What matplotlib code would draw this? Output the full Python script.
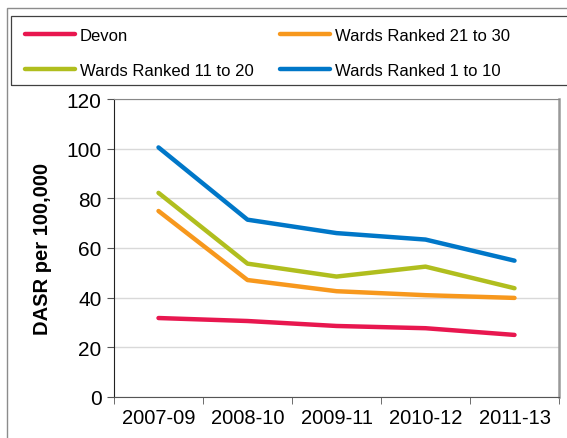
import matplotlib
matplotlib.use("Agg")
import matplotlib.pyplot as plt
from matplotlib.patches import Rectangle

plt.rcParams["font.family"] = ["Liberation Sans", "DejaVu Sans"]

# Data
periods = ["2007-09", "2008-10", "2009-11", "2010-12", "2011-13"]
devon = [31.8, 30.6, 28.6, 27.7, 25.0]
wards_21_30 = [74.9, 47.1, 42.6, 41.0, 39.9]
wards_11_20 = [82.2, 53.7, 48.5, 52.5, 43.8]
wards_1_10 = [100.5, 71.4, 66.0, 63.4, 54.9]

W, H = 567, 439


def main():
    fig = plt.figure(figsize=(W / 100, H / 100), dpi=100)

    # outer chart border and legend box
    fig.patches.append(Rectangle((7 / W, -0.05), 1.2, 1 - 9 / H + 0.05,
                                 transform=fig.transFigure, fill=False,
                                 edgecolor="#8c8c8c", linewidth=1.0))
    fig.patches.append(Rectangle((11 / W, 1 - 86 / H), 1.2, 69 / H,
                                 transform=fig.transFigure, fill=False,
                                 edgecolor="#404040", linewidth=0.9))

    ax = fig.add_axes([114 / W, 1 - 398 / H, (559 - 114) / W, (398 - 100) / H])
    x = list(range(len(periods)))

    lw = 3.2
    l1, = ax.plot(x, devon, color="#E8174F", lw=lw, solid_capstyle="round", label="Devon")
    l3, = ax.plot(x, wards_21_30, color="#F7981D", lw=lw, solid_capstyle="round",
                  label="Wards Ranked 21 to 30")
    l2, = ax.plot(x, wards_11_20, color="#B0BE1E", lw=lw, solid_capstyle="round",
                  label="Wards Ranked 11 to 20")
    l4, = ax.plot(x, wards_1_10, color="#0077C8", lw=lw, solid_capstyle="round",
                  label="Wards Ranked 1 to 10")

    ax.set_xlim(-0.5, len(periods) - 0.5)
    ax.set_ylim(0, 120)
    ax.set_yticks(range(0, 121, 20))
    ax.yaxis.grid(True, color="#d9d9d9", linewidth=1.0)
    ax.set_axisbelow(True)

    ax.set_xticks(x)
    ax.set_xticklabels(periods, fontsize=14.5)
    ax.set_xticks([i - 0.5 for i in range(len(periods) + 1)], minor=True)
    ax.tick_params(axis="x", which="major", length=0, pad=8)
    ax.tick_params(axis="x", which="minor", length=5, direction="out", color="#555555")
    ax.tick_params(axis="y", labelsize=15, length=5, direction="out", color="#555555", pad=4)

    ax.set_ylabel("DASR per 100,000", fontsize=14.5, fontweight="bold", labelpad=10)

    ax.spines["left"].set_color("#222222")
    ax.spines["bottom"].set_color("#555555")
    ax.spines["top"].set_color("#888888")
    ax.spines["right"].set_color("#999999")
    ax.spines["right"].set_linewidth(1.8)

    fig.legend([l1, l2, l3, l4],
               ["Devon", "Wards Ranked 11 to 20", "Wards Ranked 21 to 30", "Wards Ranked 1 to 10"],
               ncol=2, loc="upper left", bbox_to_anchor=(25 / W, 1 - 29 / H),
               frameon=False, fontsize=12, handlelength=3.0, handletextpad=0.3,
               columnspacing=1.6, labelspacing=1.2, borderpad=0, borderaxespad=0)

    fig.savefig("out.png", dpi=100)


if __name__ == "__main__":
    main()
